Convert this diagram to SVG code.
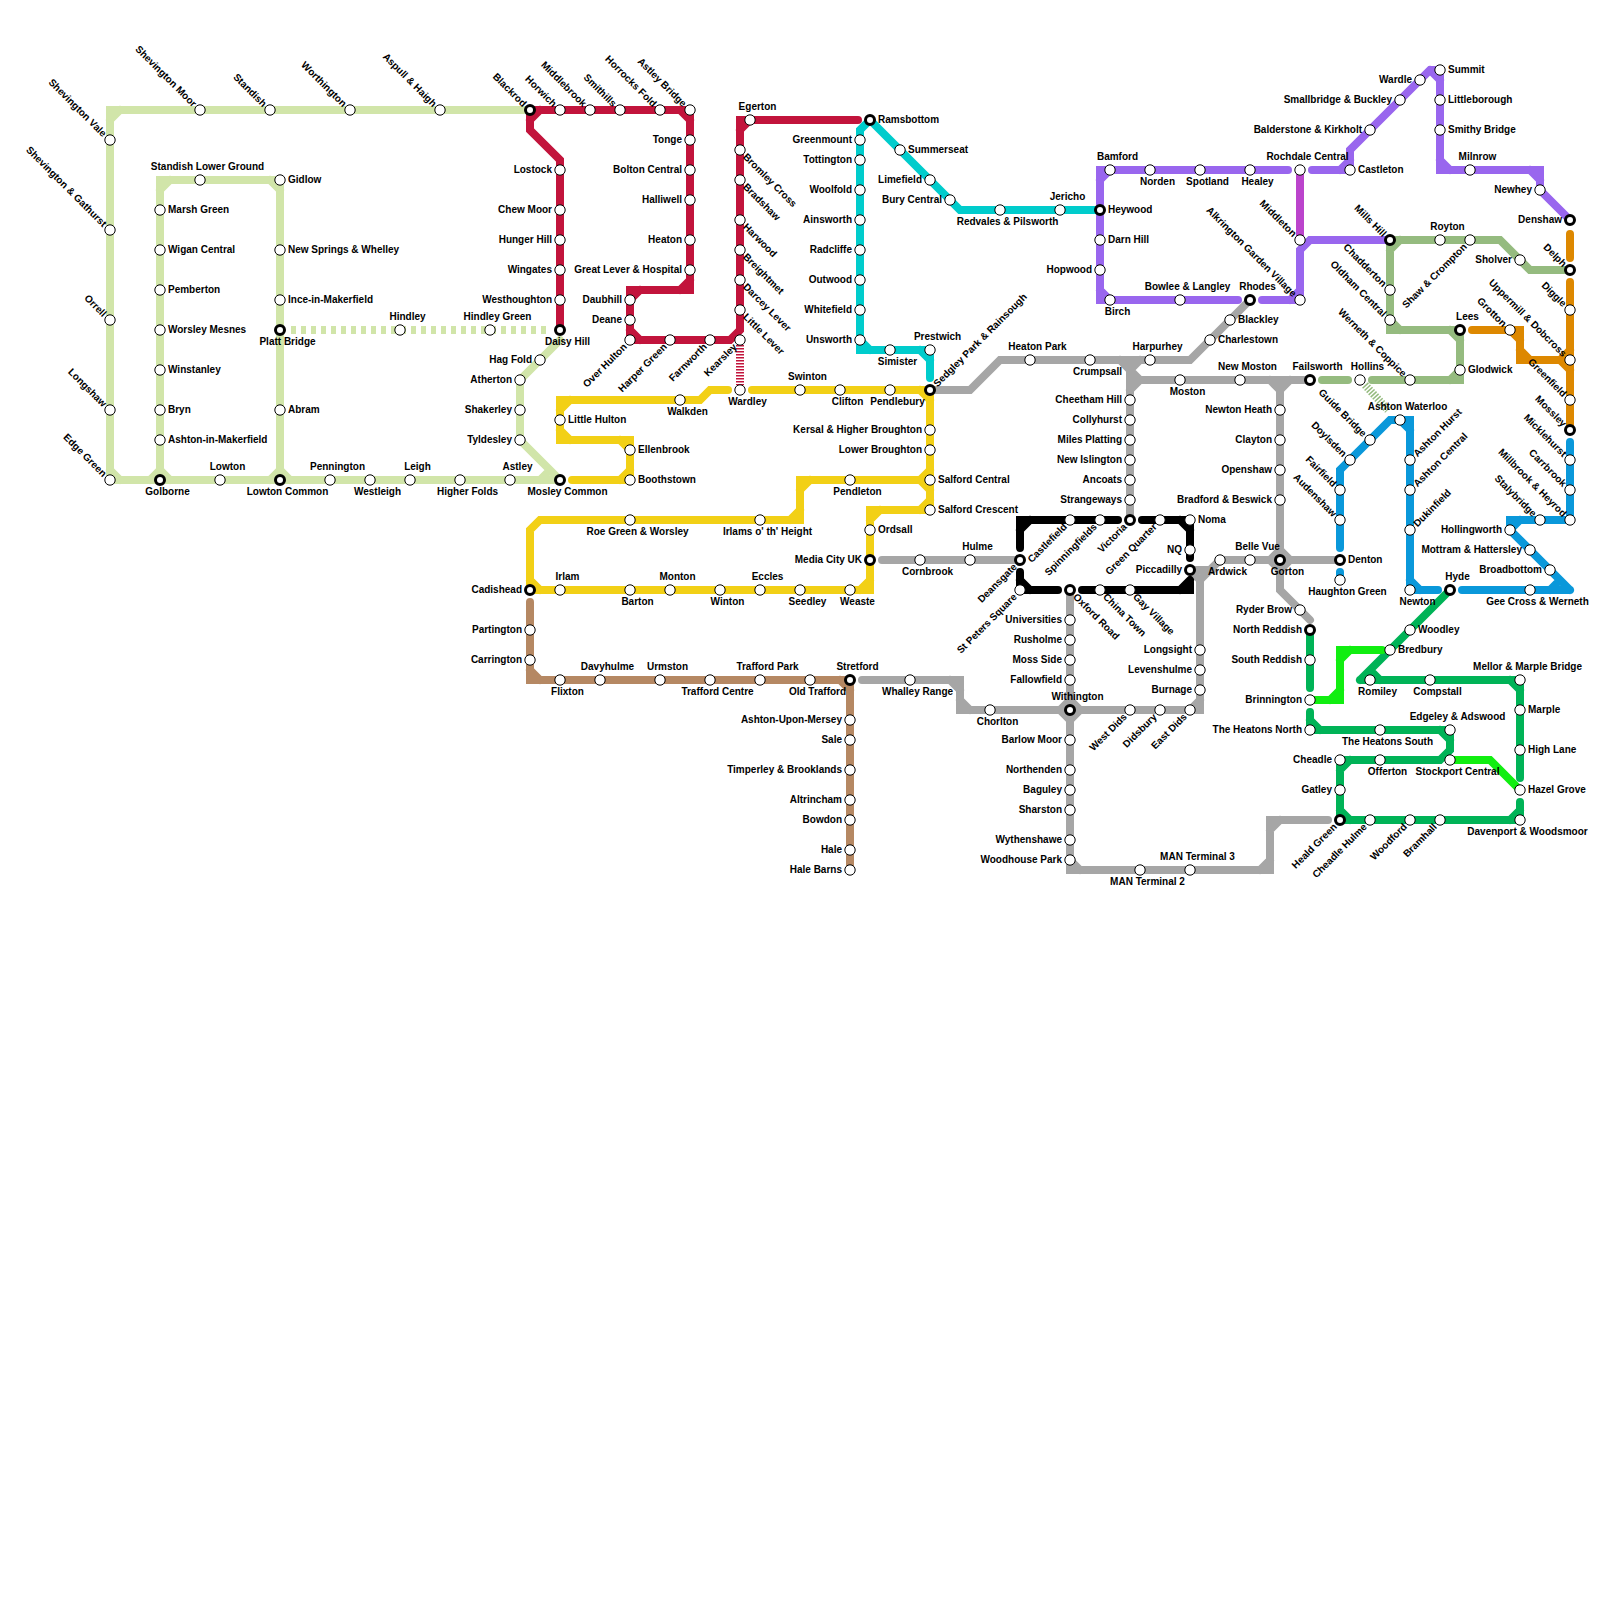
<svg xmlns="http://www.w3.org/2000/svg" width="1600" height="1600" viewBox="0 0 1600 1600">
<style>
text{font-family:"Liberation Sans",Arial,sans-serif;font-size:10px;font-weight:700;fill:#000}
.s{fill:#fff;stroke:#000;stroke-width:1}
.i{fill:#fff;stroke:#000;stroke-width:3}
.r{text-anchor:start;transform:translate(8px,2.5px)}
.l{text-anchor:end;transform:translate(-8px,2.5px)}
.a{text-anchor:middle;transform:translate(7.5px,-10px)}
.b{text-anchor:middle;transform:translate(7.5px,15px)}
.nw{text-anchor:end;transform:translate(-7.5px,-2.5px) rotate(45deg)}
.sw{text-anchor:end;transform:translate(-2.5px,7.5px) rotate(-45deg)}
.ne{text-anchor:start;transform:translate(7.5px,-2.5px) rotate(-45deg)}
.se{text-anchor:start;transform:translate(2.5px,7.5px) rotate(45deg)}
#connectors path{fill:none;stroke-width:8;stroke-linecap:round;stroke-linejoin:miter;stroke-miterlimit:2}
#connectors path.st{stroke-linecap:butt;stroke-dasharray:1.5 1.5}
#connectors path.da{stroke-linecap:butt;stroke-dasharray:5 5}
.lg{stroke:#D1E5A9}.rd{stroke:#C2143C}.te{stroke:#00CCCC}.pu{stroke:#9966EE}.mg{stroke:#BB44CC}.sa{stroke:#95BB7F}.or{stroke:#DD8800}.bl{stroke:#0A98DA}.gn{stroke:#00B357}.br{stroke:#11EE11}.gy{stroke:#A6A6A6}.ye{stroke:#F2D016}.bn{stroke:#B58863}.bk{stroke:#000}
</style>
<g id="connectors">
<path class="lg" d="M530,110H110V480H560M110,120L120,110M110,470L120,480M160,480V180H280V480M160,190L170,180M270,180L280,190M150,480L160,470L170,480M270,480L280,470L290,480M560,340L520,380V440L560,480M540,480L550,470"/>
<path class="lg da" d="M291,330H550"/>
<path class="rd" d="M530,110H690V290H630V340H730L740,330V120H858M530,120L540,110M680,110L690,120M680,290L690,280M630,300L640,290M630,330L640,340M740,130L750,120M530,110V130L560,160V330"/>
<path class="rd st" d="M740,345V385"/>
<path class="te" d="M870,120L860,130V350H930V378M860,340L870,350M920,350L930,360M870,120L960,210H1100"/>
<path class="pu" d="M1100,204V170H1288M1100,180L1110,170M1100,216V300H1238M1100,290L1110,300M1262,300H1300V250L1310,240H1390M1290,300L1300,290M1312,170H1350V150L1430,70H1440V170H1540V190L1570,220M1340,170L1350,160M1430,70L1440,80M1440,160L1450,170M1530,170L1540,180"/>
<path class="mg" d="M1300,170V240"/>
<path class="sa" d="M1390,240H1500L1530,270H1570M1390,250L1400,240M1390,240V330H1460V380H1372M1390,320L1400,330M1450,330L1460,340M1450,380L1460,370M1348,380H1322"/>
<path class="sa st" d="M1365,385L1388,410"/>
<path class="or" d="M1570,234V258M1570,282V430M1472,330H1520V360H1570M1510,330L1520,340M1520,350L1530,360M1560,360L1570,350M1560,360L1570,370"/>
<path class="bl" d="M1570,442V520H1510V530L1570,590M1570,590H1462M1510,530L1520,520M1550,590L1560,580M1438,590H1410V420H1390L1340,470V548M1340,572V580M1400,420L1410,430M1410,580L1420,590"/>
<path class="gn" d="M1450,590L1360,680M1360,680H1520V778M1370,670L1380,680M1510,680L1520,690M1520,802V820H1340V760H1440L1450,750V730H1310V712M1510,820L1520,810M1340,810L1350,820M1340,770L1350,760M1440,730L1450,740M1310,720L1320,730M1310,688V630"/>
<path class="br" d="M1310,700H1340V650H1382M1330,700L1340,690M1340,660L1350,650M1450,760H1490L1520,790"/>
<path class="gy" d="M930,390H970L1000,360H1190L1250,300M1130,360V520M1130,380H1310M1120,360L1130,370L1140,360M1130,370L1140,380L1130,390M1270,380L1280,390L1290,380M1280,380V590L1310,620M1200,710V580L1220,560H1340M1190,570H1212M1190,570L1200,580M1270,560L1280,550L1290,560L1280,570ZM882,560H1020M862,680H960V710H1200V700M1190,710L1200,700M950,680L960,690M960,700L970,710M1070,590V870H1270V820H1328M1060,710L1070,700L1080,710L1070,720ZM1070,860L1080,870M1260,870L1270,860M1270,830L1280,820"/>
<path class="bk" d="M1118,520H1020V548M1020,530L1030,520M1142,520H1190V558M1180,520L1190,530M1020,572V590H1058M1020,580L1030,590M1082,590H1190V582M1180,590L1190,580"/>
<path class="ye" d="M572,480H630V440H560V400H700L710,390H728M620,480L630,470M620,440L630,450M560,430L570,440M560,410L570,400M752,390H930V510H870V590H530V530L540,520H800V480H930M920,390L930,400M920,480L930,470M920,480L930,490M920,510L930,500M870,520L880,510M860,590L870,580M530,580L540,590M790,520L800,510M800,490L810,480"/>
<path class="bn" d="M530,602V680H850V870M530,670L540,680M840,680L850,690"/>
</g>
<g id="nodes">
<g id="shevington-vale" transform="translate(110 140)"><circle class="s" r="5.2"/><text class="nw">Shevington Vale</text></g>
<g id="shevington-gathurst" transform="translate(110 230)"><circle class="s" r="5.2"/><text class="nw">Shevington &amp; Gathurst</text></g>
<g id="orrell" transform="translate(110 320)"><circle class="s" r="5.2"/><text class="nw">Orrell</text></g>
<g id="longshaw" transform="translate(110 410)"><circle class="s" r="5.2"/><text class="nw">Longshaw</text></g>
<g id="edge-green" transform="translate(110 480)"><circle class="s" r="5.2"/><text class="nw">Edge Green</text></g>
<g id="shevington-moor" transform="translate(200 110)"><circle class="s" r="5.2"/><text class="nw">Shevington Moor</text></g>
<g id="standish" transform="translate(270 110)"><circle class="s" r="5.2"/><text class="nw">Standish</text></g>
<g id="worthington" transform="translate(350 110)"><circle class="s" r="5.2"/><text class="nw">Worthington</text></g>
<g id="aspull-haigh" transform="translate(440 110)"><circle class="s" r="5.2"/><text class="nw">Aspull &amp; Haigh</text></g>
<g id="blackrod" transform="translate(530 110)"><circle class="i" r="4.5"/><text class="nw">Blackrod</text></g>
<g id="standish-lower-ground" transform="translate(200 180)"><circle class="s" r="5.2"/><text class="a">Standish Lower Ground</text></g>
<g id="gidlow" transform="translate(280 180)"><circle class="s" r="5.2"/><text class="r">Gidlow</text></g>
<g id="marsh-green" transform="translate(160 210)"><circle class="s" r="5.2"/><text class="r">Marsh Green</text></g>
<g id="wigan-central" transform="translate(160 250)"><circle class="s" r="5.2"/><text class="r">Wigan Central</text></g>
<g id="pemberton" transform="translate(160 290)"><circle class="s" r="5.2"/><text class="r">Pemberton</text></g>
<g id="worsley-mesnes" transform="translate(160 330)"><circle class="s" r="5.2"/><text class="r">Worsley Mesnes</text></g>
<g id="winstanley" transform="translate(160 370)"><circle class="s" r="5.2"/><text class="r">Winstanley</text></g>
<g id="bryn" transform="translate(160 410)"><circle class="s" r="5.2"/><text class="r">Bryn</text></g>
<g id="ashton-in-makerfield" transform="translate(160 440)"><circle class="s" r="5.2"/><text class="r">Ashton-in-Makerfield</text></g>
<g id="new-springs" transform="translate(280 250)"><circle class="s" r="5.2"/><text class="r">New Springs &amp; Whelley</text></g>
<g id="ince" transform="translate(280 300)"><circle class="s" r="5.2"/><text class="r">Ince-in-Makerfield</text></g>
<g id="platt-bridge" transform="translate(280 330)"><circle class="i" r="4.5"/><text class="b">Platt Bridge</text></g>
<g id="abram" transform="translate(280 410)"><circle class="s" r="5.2"/><text class="r">Abram</text></g>
<g id="golborne" transform="translate(160 480)"><circle class="i" r="4.5"/><text class="b">Golborne</text></g>
<g id="lowton" transform="translate(220 480)"><circle class="s" r="5.2"/><text class="a">Lowton</text></g>
<g id="lowton-common" transform="translate(280 480)"><circle class="i" r="4.5"/><text class="b">Lowton Common</text></g>
<g id="pennington" transform="translate(330 480)"><circle class="s" r="5.2"/><text class="a">Pennington</text></g>
<g id="westleigh" transform="translate(370 480)"><circle class="s" r="5.2"/><text class="b">Westleigh</text></g>
<g id="leigh" transform="translate(410 480)"><circle class="s" r="5.2"/><text class="a">Leigh</text></g>
<g id="higher-folds" transform="translate(460 480)"><circle class="s" r="5.2"/><text class="b">Higher Folds</text></g>
<g id="astley" transform="translate(510 480)"><circle class="s" r="5.2"/><text class="a">Astley</text></g>
<g id="mosley-common" transform="translate(560 480)"><circle class="i" r="4.5"/><text class="b">Mosley Common</text></g>
<g id="hag-fold" transform="translate(540 360)"><circle class="s" r="5.2"/><text class="l">Hag Fold</text></g>
<g id="atherton" transform="translate(520 380)"><circle class="s" r="5.2"/><text class="l">Atherton</text></g>
<g id="shakerley" transform="translate(520 410)"><circle class="s" r="5.2"/><text class="l">Shakerley</text></g>
<g id="tyldesley" transform="translate(520 440)"><circle class="s" r="5.2"/><text class="l">Tyldesley</text></g>
<g id="hindley" transform="translate(400 330)"><circle class="s" r="5.2"/><text class="a">Hindley</text></g>
<g id="hindley-green" transform="translate(490 330)"><circle class="s" r="5.2"/><text class="a">Hindley Green</text></g>
<g id="daisy-hill" transform="translate(560 330)"><circle class="i" r="4.5"/><text class="b">Daisy Hill</text></g>
<g id="horwich" transform="translate(560 110)"><circle class="s" r="5.2"/><text class="nw">Horwich</text></g>
<g id="middlebrook" transform="translate(590 110)"><circle class="s" r="5.2"/><text class="nw">Middlebrook</text></g>
<g id="smithills" transform="translate(620 110)"><circle class="s" r="5.2"/><text class="nw">Smithills</text></g>
<g id="horrocks-fold" transform="translate(660 110)"><circle class="s" r="5.2"/><text class="nw">Horrocks Fold</text></g>
<g id="astley-bridge" transform="translate(690 110)"><circle class="s" r="5.2"/><text class="nw">Astley Bridge</text></g>
<g id="tonge" transform="translate(690 140)"><circle class="s" r="5.2"/><text class="l">Tonge</text></g>
<g id="bolton-central" transform="translate(690 170)"><circle class="s" r="5.2"/><text class="l">Bolton Central</text></g>
<g id="halliwell" transform="translate(690 200)"><circle class="s" r="5.2"/><text class="l">Halliwell</text></g>
<g id="heaton" transform="translate(690 240)"><circle class="s" r="5.2"/><text class="l">Heaton</text></g>
<g id="great-lever" transform="translate(690 270)"><circle class="s" r="5.2"/><text class="l">Great Lever &amp; Hospital</text></g>
<g id="daubhill" transform="translate(630 300)"><circle class="s" r="5.2"/><text class="l">Daubhill</text></g>
<g id="deane" transform="translate(630 320)"><circle class="s" r="5.2"/><text class="l">Deane</text></g>
<g id="over-hulton" transform="translate(630 340)"><circle class="s" r="5.2"/><text class="sw">Over Hulton</text></g>
<g id="harper-green" transform="translate(670 340)"><circle class="s" r="5.2"/><text class="sw">Harper Green</text></g>
<g id="farnworth" transform="translate(710 340)"><circle class="s" r="5.2"/><text class="sw">Farnworth</text></g>
<g id="kearsley" transform="translate(740 340)"><circle class="s" r="5.2"/><text class="sw">Kearsley</text></g>
<g id="egerton" transform="translate(750 120)"><circle class="s" r="5.2"/><text class="a">Egerton</text></g>
<g id="bromley-cross" transform="translate(740 150)"><circle class="s" r="5.2"/><text class="se">Bromley Cross</text></g>
<g id="bradshaw" transform="translate(740 180)"><circle class="s" r="5.2"/><text class="se">Bradshaw</text></g>
<g id="harwood" transform="translate(740 220)"><circle class="s" r="5.2"/><text class="se">Harwood</text></g>
<g id="breightmet" transform="translate(740 250)"><circle class="s" r="5.2"/><text class="se">Breightmet</text></g>
<g id="darcey-lever" transform="translate(740 280)"><circle class="s" r="5.2"/><text class="se">Darcey Lever</text></g>
<g id="little-lever" transform="translate(740 310)"><circle class="s" r="5.2"/><text class="se">Little Lever</text></g>
<g id="lostock" transform="translate(560 170)"><circle class="s" r="5.2"/><text class="l">Lostock</text></g>
<g id="chew-moor" transform="translate(560 210)"><circle class="s" r="5.2"/><text class="l">Chew Moor</text></g>
<g id="hunger-hill" transform="translate(560 240)"><circle class="s" r="5.2"/><text class="l">Hunger Hill</text></g>
<g id="wingates" transform="translate(560 270)"><circle class="s" r="5.2"/><text class="l">Wingates</text></g>
<g id="westhoughton" transform="translate(560 300)"><circle class="s" r="5.2"/><text class="l">Westhoughton</text></g>
<g id="wardley" transform="translate(740 390)"><circle class="s" r="5.2"/><text class="b">Wardley</text></g>
<g id="ramsbottom" transform="translate(870 120)"><circle class="i" r="4.5"/><text class="r">Ramsbottom</text></g>
<g id="walkden" transform="translate(680 400)"><circle class="s" r="5.2"/><text class="b">Walkden</text></g>
<g id="little-hulton" transform="translate(560 420)"><circle class="s" r="5.2"/><text class="r">Little Hulton</text></g>
<g id="ellenbrook" transform="translate(630 450)"><circle class="s" r="5.2"/><text class="r">Ellenbrook</text></g>
<g id="boothstown" transform="translate(630 480)"><circle class="s" r="5.2"/><text class="r">Boothstown</text></g>
<g id="swinton" transform="translate(800 390)"><circle class="s" r="5.2"/><text class="a">Swinton</text></g>
<g id="clifton" transform="translate(840 390)"><circle class="s" r="5.2"/><text class="b">Clifton</text></g>
<g id="pendlebury" transform="translate(890 390)"><circle class="s" r="5.2"/><text class="b">Pendlebury</text></g>
<g id="sedgley-park" transform="translate(930 390)"><circle class="i" r="4.5"/><text class="ne">Sedgley Park &amp; Rainsough</text></g>
<g id="kersal" transform="translate(930 430)"><circle class="s" r="5.2"/><text class="l">Kersal &amp; Higher Broughton</text></g>
<g id="lower-broughton" transform="translate(930 450)"><circle class="s" r="5.2"/><text class="l">Lower Broughton</text></g>
<g id="salford-central" transform="translate(930 480)"><circle class="s" r="5.2"/><text class="r">Salford Central</text></g>
<g id="salford-crescent" transform="translate(930 510)"><circle class="s" r="5.2"/><text class="r">Salford Crescent</text></g>
<g id="pendleton" transform="translate(850 480)"><circle class="s" r="5.2"/><text class="b">Pendleton</text></g>
<g id="irlams" transform="translate(760 520)"><circle class="s" r="5.2"/><text class="b">Irlams o' th' Height</text></g>
<g id="roe-green" transform="translate(630 520)"><circle class="s" r="5.2"/><text class="b">Roe Green &amp; Worsley</text></g>
<g id="cadishead" transform="translate(530 590)"><circle class="i" r="4.5"/><text class="l">Cadishead</text></g>
<g id="ordsall" transform="translate(870 530)"><circle class="s" r="5.2"/><text class="r">Ordsall</text></g>
<g id="media-city" transform="translate(870 560)"><circle class="i" r="4.5"/><text class="l">Media City UK</text></g>
<g id="weaste" transform="translate(850 590)"><circle class="s" r="5.2"/><text class="b">Weaste</text></g>
<g id="irlam" transform="translate(560 590)"><circle class="s" r="5.2"/><text class="a">Irlam</text></g>
<g id="barton" transform="translate(630 590)"><circle class="s" r="5.2"/><text class="b">Barton</text></g>
<g id="monton" transform="translate(670 590)"><circle class="s" r="5.2"/><text class="a">Monton</text></g>
<g id="winton" transform="translate(720 590)"><circle class="s" r="5.2"/><text class="b">Winton</text></g>
<g id="eccles" transform="translate(760 590)"><circle class="s" r="5.2"/><text class="a">Eccles</text></g>
<g id="seedley" transform="translate(800 590)"><circle class="s" r="5.2"/><text class="b">Seedley</text></g>
<g id="partington" transform="translate(530 630)"><circle class="s" r="5.2"/><text class="l">Partington</text></g>
<g id="carrington" transform="translate(530 660)"><circle class="s" r="5.2"/><text class="l">Carrington</text></g>
<g id="flixton" transform="translate(560 680)"><circle class="s" r="5.2"/><text class="b">Flixton</text></g>
<g id="davyhulme" transform="translate(600 680)"><circle class="s" r="5.2"/><text class="a">Davyhulme</text></g>
<g id="urmston" transform="translate(660 680)"><circle class="s" r="5.2"/><text class="a">Urmston</text></g>
<g id="trafford-centre" transform="translate(710 680)"><circle class="s" r="5.2"/><text class="b">Trafford Centre</text></g>
<g id="trafford-park" transform="translate(760 680)"><circle class="s" r="5.2"/><text class="a">Trafford Park</text></g>
<g id="old-trafford" transform="translate(810 680)"><circle class="s" r="5.2"/><text class="b">Old Trafford</text></g>
<g id="stretford" transform="translate(850 680)"><circle class="i" r="4.5"/><text class="a">Stretford</text></g>
<g id="ashton-upon-mersey" transform="translate(850 720)"><circle class="s" r="5.2"/><text class="l">Ashton-Upon-Mersey</text></g>
<g id="sale" transform="translate(850 740)"><circle class="s" r="5.2"/><text class="l">Sale</text></g>
<g id="timperley" transform="translate(850 770)"><circle class="s" r="5.2"/><text class="l">Timperley &amp; Brooklands</text></g>
<g id="altrincham" transform="translate(850 800)"><circle class="s" r="5.2"/><text class="l">Altrincham</text></g>
<g id="bowdon" transform="translate(850 820)"><circle class="s" r="5.2"/><text class="l">Bowdon</text></g>
<g id="hale" transform="translate(850 850)"><circle class="s" r="5.2"/><text class="l">Hale</text></g>
<g id="hale-barns" transform="translate(850 870)"><circle class="s" r="5.2"/><text class="l">Hale Barns</text></g>
<g id="greenmount" transform="translate(860 140)"><circle class="s" r="5.2"/><text class="l">Greenmount</text></g>
<g id="tottington" transform="translate(860 160)"><circle class="s" r="5.2"/><text class="l">Tottington</text></g>
<g id="woolfold" transform="translate(860 190)"><circle class="s" r="5.2"/><text class="l">Woolfold</text></g>
<g id="ainsworth" transform="translate(860 220)"><circle class="s" r="5.2"/><text class="l">Ainsworth</text></g>
<g id="radcliffe" transform="translate(860 250)"><circle class="s" r="5.2"/><text class="l">Radcliffe</text></g>
<g id="outwood" transform="translate(860 280)"><circle class="s" r="5.2"/><text class="l">Outwood</text></g>
<g id="whitefield" transform="translate(860 310)"><circle class="s" r="5.2"/><text class="l">Whitefield</text></g>
<g id="unsworth" transform="translate(860 340)"><circle class="s" r="5.2"/><text class="l">Unsworth</text></g>
<g id="simister" transform="translate(890 350)"><circle class="s" r="5.2"/><text class="b">Simister</text></g>
<g id="prestwich" transform="translate(930 350)"><circle class="s" r="5.2"/><text class="a">Prestwich</text></g>
<g id="summerseat" transform="translate(900 150)"><circle class="s" r="5.2"/><text class="r">Summerseat</text></g>
<g id="limefield" transform="translate(930 180)"><circle class="s" r="5.2"/><text class="l">Limefield</text></g>
<g id="bury-central" transform="translate(950 200)"><circle class="s" r="5.2"/><text class="l">Bury Central</text></g>
<g id="redvales" transform="translate(1000 210)"><circle class="s" r="5.2"/><text class="b">Redvales &amp; Pilsworth</text></g>
<g id="jericho" transform="translate(1060 210)"><circle class="s" r="5.2"/><text class="a">Jericho</text></g>
<g id="heywood" transform="translate(1100 210)"><circle class="i" r="4.5"/><text class="r">Heywood</text></g>
<g id="bamford" transform="translate(1110 170)"><circle class="s" r="5.2"/><text class="a">Bamford</text></g>
<g id="norden" transform="translate(1150 170)"><circle class="s" r="5.2"/><text class="b">Norden</text></g>
<g id="spotland" transform="translate(1200 170)"><circle class="s" r="5.2"/><text class="b">Spotland</text></g>
<g id="healey" transform="translate(1250 170)"><circle class="s" r="5.2"/><text class="b">Healey</text></g>
<g id="rochdale-central" transform="translate(1300 170)"><circle class="s" r="5.2"/><text class="a">Rochdale Central</text></g>
<g id="darn-hill" transform="translate(1100 240)"><circle class="s" r="5.2"/><text class="r">Darn Hill</text></g>
<g id="hopwood" transform="translate(1100 270)"><circle class="s" r="5.2"/><text class="l">Hopwood</text></g>
<g id="birch" transform="translate(1110 300)"><circle class="s" r="5.2"/><text class="b">Birch</text></g>
<g id="bowlee" transform="translate(1180 300)"><circle class="s" r="5.2"/><text class="a">Bowlee &amp; Langley</text></g>
<g id="rhodes" transform="translate(1250 300)"><circle class="i" r="4.5"/><text class="a">Rhodes</text></g>
<g id="alkrington" transform="translate(1300 300)"><circle class="s" r="5.2"/><text class="nw">Alkrington Garden Village</text></g>
<g id="middleton" transform="translate(1300 240)"><circle class="s" r="5.2"/><text class="nw">Middleton</text></g>
<g id="mills-hill" transform="translate(1390 240)"><circle class="i" r="4.5"/><text class="nw">Mills Hill</text></g>
<g id="castleton" transform="translate(1350 170)"><circle class="s" r="5.2"/><text class="r">Castleton</text></g>
<g id="balderstone" transform="translate(1370 130)"><circle class="s" r="5.2"/><text class="l">Balderstone &amp; Kirkholt</text></g>
<g id="smallbridge" transform="translate(1400 100)"><circle class="s" r="5.2"/><text class="l">Smallbridge &amp; Buckley</text></g>
<g id="wardle" transform="translate(1420 80)"><circle class="s" r="5.2"/><text class="l">Wardle</text></g>
<g id="summit" transform="translate(1440 70)"><circle class="s" r="5.2"/><text class="r">Summit</text></g>
<g id="littleborough" transform="translate(1440 100)"><circle class="s" r="5.2"/><text class="r">Littleborough</text></g>
<g id="smithy-bridge" transform="translate(1440 130)"><circle class="s" r="5.2"/><text class="r">Smithy Bridge</text></g>
<g id="milnrow" transform="translate(1470 170)"><circle class="s" r="5.2"/><text class="a">Milnrow</text></g>
<g id="newhey" transform="translate(1540 190)"><circle class="s" r="5.2"/><text class="l">Newhey</text></g>
<g id="denshaw" transform="translate(1570 220)"><circle class="i" r="4.5"/><text class="l">Denshaw</text></g>
<g id="royton" transform="translate(1440 240)"><circle class="s" r="5.2"/><text class="a">Royton</text></g>
<g id="shaw-crompton" transform="translate(1470 240)"><circle class="s" r="5.2"/><text class="sw">Shaw &amp; Crompton</text></g>
<g id="sholver" transform="translate(1520 260)"><circle class="s" r="5.2"/><text class="l">Sholver</text></g>
<g id="delph" transform="translate(1570 270)"><circle class="i" r="4.5"/><text class="nw">Delph</text></g>
<g id="chadderton" transform="translate(1390 290)"><circle class="s" r="5.2"/><text class="nw">Chadderton</text></g>
<g id="oldham-central" transform="translate(1390 320)"><circle class="s" r="5.2"/><text class="nw">Oldham Central</text></g>
<g id="lees" transform="translate(1460 330)"><circle class="i" r="4.5"/><text class="a">Lees</text></g>
<g id="glodwick" transform="translate(1460 370)"><circle class="s" r="5.2"/><text class="r">Glodwick</text></g>
<g id="werneth" transform="translate(1410 380)"><circle class="s" r="5.2"/><text class="nw">Werneth &amp; Coppice</text></g>
<g id="hollins" transform="translate(1360 380)"><circle class="s" r="5.2"/><text class="a">Hollins</text></g>
<g id="grotton" transform="translate(1510 330)"><circle class="s" r="5.2"/><text class="nw">Grotton</text></g>
<g id="uppermill" transform="translate(1570 360)"><circle class="s" r="5.2"/><text class="nw">Uppermill &amp; Dobcross</text></g>
<g id="diggle" transform="translate(1570 310)"><circle class="s" r="5.2"/><text class="nw">Diggle</text></g>
<g id="greenfield" transform="translate(1570 400)"><circle class="s" r="5.2"/><text class="nw">Greenfield</text></g>
<g id="mossley" transform="translate(1570 430)"><circle class="i" r="4.5"/><text class="nw">Mossley</text></g>
<g id="micklehurst" transform="translate(1570 460)"><circle class="s" r="5.2"/><text class="nw">Micklehurst</text></g>
<g id="carrbrook" transform="translate(1570 490)"><circle class="s" r="5.2"/><text class="nw">Carrbrook</text></g>
<g id="millbrook" transform="translate(1570 520)"><circle class="s" r="5.2"/><text class="nw">Millbrook &amp; Heyrod</text></g>
<g id="stalybridge" transform="translate(1540 520)"><circle class="s" r="5.2"/><text class="nw">Stalybridge</text></g>
<g id="hollingworth" transform="translate(1510 530)"><circle class="s" r="5.2"/><text class="l">Hollingworth</text></g>
<g id="mottram" transform="translate(1530 550)"><circle class="s" r="5.2"/><text class="l">Mottram &amp; Hattersley</text></g>
<g id="broadbottom" transform="translate(1550 570)"><circle class="s" r="5.2"/><text class="l">Broadbottom</text></g>
<g id="gee-cross" transform="translate(1530 590)"><circle class="s" r="5.2"/><text class="b">Gee Cross &amp; Werneth</text></g>
<g id="hyde" transform="translate(1450 590)"><circle class="i" r="4.5"/><text class="a">Hyde</text></g>
<g id="newton" transform="translate(1410 590)"><circle class="s" r="5.2"/><text class="b">Newton</text></g>
<g id="dukinfield" transform="translate(1410 530)"><circle class="s" r="5.2"/><text class="ne">Dukinfield</text></g>
<g id="ashton-central" transform="translate(1410 490)"><circle class="s" r="5.2"/><text class="ne">Ashton Central</text></g>
<g id="ashton-hurst" transform="translate(1410 460)"><circle class="s" r="5.2"/><text class="ne">Ashton Hurst</text></g>
<g id="ashton-waterloo" transform="translate(1400 420)"><circle class="s" r="5.2"/><text class="a">Ashton Waterloo</text></g>
<g id="guide-bridge" transform="translate(1370 440)"><circle class="s" r="5.2"/><text class="nw">Guide Bridge</text></g>
<g id="doylsden" transform="translate(1350 460)"><circle class="s" r="5.2"/><text class="nw">Doylsden</text></g>
<g id="fairfield" transform="translate(1340 490)"><circle class="s" r="5.2"/><text class="nw">Fairfield</text></g>
<g id="audenshaw" transform="translate(1340 520)"><circle class="s" r="5.2"/><text class="nw">Audenshaw</text></g>
<g id="denton" transform="translate(1340 560)"><circle class="i" r="4.5"/><text class="r">Denton</text></g>
<g id="haughton-green" transform="translate(1340 580)"><circle class="s" r="5.2"/><text class="b">Haughton Green</text></g>
<g id="woodley" transform="translate(1410 630)"><circle class="s" r="5.2"/><text class="r">Woodley</text></g>
<g id="bredbury" transform="translate(1390 650)"><circle class="s" r="5.2"/><text class="r">Bredbury</text></g>
<g id="romiley" transform="translate(1370 680)"><circle class="s" r="5.2"/><text class="b">Romiley</text></g>
<g id="compstall" transform="translate(1430 680)"><circle class="s" r="5.2"/><text class="b">Compstall</text></g>
<g id="mellor" transform="translate(1520 680)"><circle class="s" r="5.2"/><text class="a">Mellor &amp; Marple Bridge</text></g>
<g id="marple" transform="translate(1520 710)"><circle class="s" r="5.2"/><text class="r">Marple</text></g>
<g id="high-lane" transform="translate(1520 750)"><circle class="s" r="5.2"/><text class="r">High Lane</text></g>
<g id="hazel-grove" transform="translate(1520 790)"><circle class="s" r="5.2"/><text class="r">Hazel Grove</text></g>
<g id="davenport" transform="translate(1520 820)"><circle class="s" r="5.2"/><text class="b">Davenport &amp; Woodsmoor</text></g>
<g id="bramhall" transform="translate(1440 820)"><circle class="s" r="5.2"/><text class="sw">Bramhall</text></g>
<g id="woodford" transform="translate(1410 820)"><circle class="s" r="5.2"/><text class="sw">Woodford</text></g>
<g id="cheadle-hulme" transform="translate(1370 820)"><circle class="s" r="5.2"/><text class="sw">Cheadle Hulme</text></g>
<g id="heald-green" transform="translate(1340 820)"><circle class="i" r="4.5"/><text class="sw">Heald Green</text></g>
<g id="gatley" transform="translate(1340 790)"><circle class="s" r="5.2"/><text class="l">Gatley</text></g>
<g id="cheadle" transform="translate(1340 760)"><circle class="s" r="5.2"/><text class="l">Cheadle</text></g>
<g id="offerton" transform="translate(1380 760)"><circle class="s" r="5.2"/><text class="b">Offerton</text></g>
<g id="stockport-central" transform="translate(1450 760)"><circle class="s" r="5.2"/><text class="b">Stockport Central</text></g>
<g id="edgeley" transform="translate(1450 730)"><circle class="s" r="5.2"/><text class="a">Edgeley &amp; Adswood</text></g>
<g id="heatons-south" transform="translate(1380 730)"><circle class="s" r="5.2"/><text class="b">The Heatons South</text></g>
<g id="heatons-north" transform="translate(1310 730)"><circle class="s" r="5.2"/><text class="l">The Heatons North</text></g>
<g id="brinnington" transform="translate(1310 700)"><circle class="s" r="5.2"/><text class="l">Brinnington</text></g>
<g id="south-reddish" transform="translate(1310 660)"><circle class="s" r="5.2"/><text class="l">South Reddish</text></g>
<g id="north-reddish" transform="translate(1310 630)"><circle class="i" r="4.5"/><text class="l">North Reddish</text></g>
<g id="heaton-park" transform="translate(1030 360)"><circle class="s" r="5.2"/><text class="a">Heaton Park</text></g>
<g id="crumpsall" transform="translate(1090 360)"><circle class="s" r="5.2"/><text class="b">Crumpsall</text></g>
<g id="harpurhey" transform="translate(1150 360)"><circle class="s" r="5.2"/><text class="a">Harpurhey</text></g>
<g id="charlestown" transform="translate(1210 340)"><circle class="s" r="5.2"/><text class="r">Charlestown</text></g>
<g id="blackley" transform="translate(1230 320)"><circle class="s" r="5.2"/><text class="r">Blackley</text></g>
<g id="cheetham-hill" transform="translate(1130 400)"><circle class="s" r="5.2"/><text class="l">Cheetham Hill</text></g>
<g id="collyhurst" transform="translate(1130 420)"><circle class="s" r="5.2"/><text class="l">Collyhurst</text></g>
<g id="miles-platting" transform="translate(1130 440)"><circle class="s" r="5.2"/><text class="l">Miles Platting</text></g>
<g id="new-islington" transform="translate(1130 460)"><circle class="s" r="5.2"/><text class="l">New Islington</text></g>
<g id="ancoats" transform="translate(1130 480)"><circle class="s" r="5.2"/><text class="l">Ancoats</text></g>
<g id="strangeways" transform="translate(1130 500)"><circle class="s" r="5.2"/><text class="l">Strangeways</text></g>
<g id="moston" transform="translate(1180 380)"><circle class="s" r="5.2"/><text class="b">Moston</text></g>
<g id="new-moston" transform="translate(1240 380)"><circle class="s" r="5.2"/><text class="a">New Moston</text></g>
<g id="failsworth" transform="translate(1310 380)"><circle class="i" r="4.5"/><text class="a">Failsworth</text></g>
<g id="newton-heath" transform="translate(1280 410)"><circle class="s" r="5.2"/><text class="l">Newton Heath</text></g>
<g id="clayton" transform="translate(1280 440)"><circle class="s" r="5.2"/><text class="l">Clayton</text></g>
<g id="openshaw" transform="translate(1280 470)"><circle class="s" r="5.2"/><text class="l">Openshaw</text></g>
<g id="bradford" transform="translate(1280 500)"><circle class="s" r="5.2"/><text class="l">Bradford &amp; Beswick</text></g>
<g id="belle-vue" transform="translate(1250 560)"><circle class="s" r="5.2"/><text class="a">Belle Vue</text></g>
<g id="gorton" transform="translate(1280 560)"><circle class="i" r="4.5"/><text class="b">Gorton</text></g>
<g id="ardwick" transform="translate(1220 560)"><circle class="s" r="5.2"/><text class="b">Ardwick</text></g>
<g id="ryder-brow" transform="translate(1300 610)"><circle class="s" r="5.2"/><text class="l">Ryder Brow</text></g>
<g id="cornbrook" transform="translate(920 560)"><circle class="s" r="5.2"/><text class="b">Cornbrook</text></g>
<g id="hulme" transform="translate(970 560)"><circle class="s" r="5.2"/><text class="a">Hulme</text></g>
<g id="whalley-range" transform="translate(910 680)"><circle class="s" r="5.2"/><text class="b">Whalley Range</text></g>
<g id="chorlton" transform="translate(990 710)"><circle class="s" r="5.2"/><text class="b">Chorlton</text></g>
<g id="withington" transform="translate(1070 710)"><circle class="i" r="4.5"/><text class="a">Withington</text></g>
<g id="west-dids" transform="translate(1130 710)"><circle class="s" r="5.2"/><text class="sw">West Dids</text></g>
<g id="didsbury" transform="translate(1160 710)"><circle class="s" r="5.2"/><text class="sw">Didsbury</text></g>
<g id="east-dids" transform="translate(1190 710)"><circle class="s" r="5.2"/><text class="sw">East Dids</text></g>
<g id="longsight" transform="translate(1200 650)"><circle class="s" r="5.2"/><text class="l">Longsight</text></g>
<g id="levenshulme" transform="translate(1200 670)"><circle class="s" r="5.2"/><text class="l">Levenshulme</text></g>
<g id="burnage" transform="translate(1200 690)"><circle class="s" r="5.2"/><text class="l">Burnage</text></g>
<g id="universities" transform="translate(1070 620)"><circle class="s" r="5.2"/><text class="l">Universities</text></g>
<g id="rusholme" transform="translate(1070 640)"><circle class="s" r="5.2"/><text class="l">Rusholme</text></g>
<g id="moss-side" transform="translate(1070 660)"><circle class="s" r="5.2"/><text class="l">Moss Side</text></g>
<g id="fallowfield" transform="translate(1070 680)"><circle class="s" r="5.2"/><text class="l">Fallowfield</text></g>
<g id="barlow-moor" transform="translate(1070 740)"><circle class="s" r="5.2"/><text class="l">Barlow Moor</text></g>
<g id="northenden" transform="translate(1070 770)"><circle class="s" r="5.2"/><text class="l">Northenden</text></g>
<g id="baguley" transform="translate(1070 790)"><circle class="s" r="5.2"/><text class="l">Baguley</text></g>
<g id="sharston" transform="translate(1070 810)"><circle class="s" r="5.2"/><text class="l">Sharston</text></g>
<g id="wythenshawe" transform="translate(1070 840)"><circle class="s" r="5.2"/><text class="l">Wythenshawe</text></g>
<g id="woodhouse-park" transform="translate(1070 860)"><circle class="s" r="5.2"/><text class="l">Woodhouse Park</text></g>
<g id="man-t2" transform="translate(1140 870)"><circle class="s" r="5.2"/><text class="b">MAN Terminal 2</text></g>
<g id="man-t3" transform="translate(1190 870)"><circle class="s" r="5.2"/><text class="a">MAN Terminal 3</text></g>
<g id="castlefield" transform="translate(1070 520)"><circle class="s" r="5.2"/><text class="sw">Castlefield</text></g>
<g id="spinningfields" transform="translate(1100 520)"><circle class="s" r="5.2"/><text class="sw">Spinningfields</text></g>
<g id="victoria" transform="translate(1130 520)"><circle class="i" r="4.5"/><text class="sw">Victoria</text></g>
<g id="green-quarter" transform="translate(1160 520)"><circle class="s" r="5.2"/><text class="sw">Green Quarter</text></g>
<g id="noma" transform="translate(1190 520)"><circle class="s" r="5.2"/><text class="r">Noma</text></g>
<g id="nq" transform="translate(1190 550)"><circle class="s" r="5.2"/><text class="l">NQ</text></g>
<g id="piccadilly" transform="translate(1190 570)"><circle class="i" r="4.5"/><text class="l">Piccadilly</text></g>
<g id="deansgate" transform="translate(1020 560)"><circle class="i" r="4.5"/><text class="sw">Deansgate</text></g>
<g id="st-peters-square" transform="translate(1020 590)"><circle class="s" r="5.2"/><text class="sw">St Peters Square</text></g>
<g id="oxford-road" transform="translate(1070 590)"><circle class="i" r="4.5"/><text class="se">Oxford Road</text></g>
<g id="china-town" transform="translate(1100 590)"><circle class="s" r="5.2"/><text class="se">China Town</text></g>
<g id="gay-village" transform="translate(1130 590)"><circle class="s" r="5.2"/><text class="se">Gay Village</text></g>
</g>
</svg>
